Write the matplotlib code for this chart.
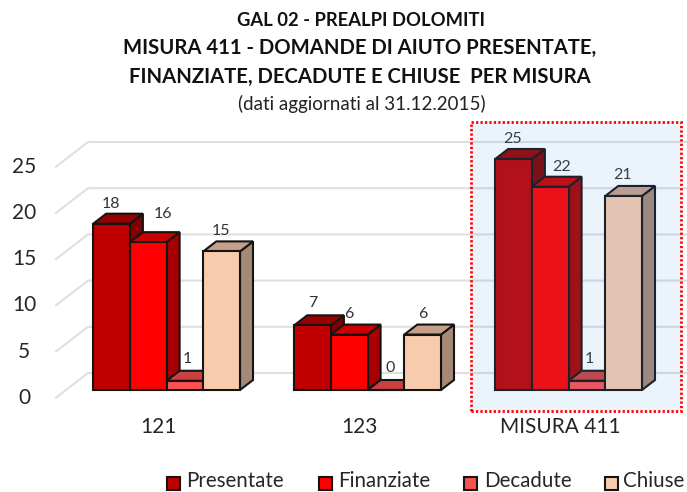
import numpy as np
import matplotlib
matplotlib.use('Agg')
import matplotlib.pyplot as plt
from matplotlib.patches import Polygon, Rectangle

plt.rcParams['font.family'] = ['Lato', 'DejaVu Sans']

categories = ['121', '123', 'MISURA 411']
series_names = ['Presentate', 'Finanziate', 'Decadute', 'Chiuse']
presentate = [18, 7, 25]
finanziate = [16, 6, 22]
decadute = [1, 0, 1]
chiuse = [15, 6, 21]
y_ticks = [0, 5, 10, 15, 20, 25]

series = [presentate, finanziate, decadute, chiuse]
front_cols = ['#c00000', '#ff0000', '#ff5050', '#f8cbad']
top_cols = ['#990000', '#cc0000', '#cc4040', '#c69f88']
side_cols = ['#800000', '#a80000', '#a83535', '#a68876']
edge = '#141414'

# pixel nudges of the value labels, from the back top corner centre of each bar
label_nudge = [[(-1, 10), (0, 12), (-1, 10)],
               [(15, 18), (0, 11), (11, 10)],
               [(2, 12), (4, 12), (2, 12)],
               [(-1, 10), (0, 11), (-1, 11)]]

W, H = 687, 492
fig = plt.figure(figsize=(W / 100, H / 100), dpi=100)

# axes spans 0..25 in y, one unit of x = one category
px_y = 9.24
px_x = 201.0
ax_left, ax_right = 56, 687
ax_bottom = 390
ax_top = ax_bottom - 25 * px_y
ax = fig.add_axes([ax_left / W, 1 - ax_bottom / H, (ax_right - ax_left) / W, (ax_bottom - ax_top) / H])
x0 = (93.3 + 73.3 - ax_left) / px_x
ax.set_xlim(-x0, (ax_right - ax_left) / px_x - x0)
ax.set_ylim(0, 25)
ax.axis('off')

bar_w = 36.7 / px_x
dep_x = 13 / px_x
dep_y = 10 / px_y
wall_dy = 17 / px_y
front_dy = -7.7 / px_y

for t in y_ticks:
    ax.plot([-x0, -x0 + 32 / px_x, ax.get_xlim()[1]],
            [t + front_dy, t + wall_dy, t + wall_dy],
            color='#dfdfdf', lw=1.5, clip_on=False, zorder=1, solid_joinstyle='miter')
    ax.annotate(str(t), (-x0, t + front_dy), xytext=(-32, 0), textcoords='offset pixels',
                ha='center', va='center', fontsize=15, color='#262626', annotation_clip=False)

for i, vals in enumerate(series):
    for j, v in enumerate(vals):
        x = j + (i - 2) * bar_w
        # side and top faces
        ax.add_patch(Polygon([(x + bar_w, 0), (x + bar_w + dep_x, dep_y), (x + bar_w + dep_x, v + dep_y), (x + bar_w, v)],
                             facecolor=side_cols[i], edgecolor=edge, lw=1.5, zorder=3 + i, clip_on=False))
        ax.add_patch(Polygon([(x, v), (x + dep_x, v + dep_y), (x + bar_w + dep_x, v + dep_y), (x + bar_w, v)],
                             facecolor=top_cols[i], edgecolor=edge, lw=1.5, zorder=3 + i, clip_on=False))
        ax.bar(x, v, width=bar_w, align='edge', color=front_cols[i], edgecolor=edge, lw=1.5,
               zorder=3 + i, clip_on=False)
        nx, ny = label_nudge[i][j]
        ax.annotate(str(v), (x + bar_w / 2, v + dep_y), xytext=(nx, ny), textcoords='offset pixels',
                    ha='center', va='center', fontsize=11.5, color='#333333', zorder=10,
                    annotation_clip=False)

for j, c in enumerate(categories):
    ax.annotate(c, (j, 0), xytext=(-8, -37), textcoords='offset pixels', ha='center', va='center',
                fontsize=15, color='#262626', annotation_clip=False)

# highlight box over the last group
fig.add_artist(Rectangle((470.5 / W, 1 - 411 / H), 210 / W, 289 / H, transform=fig.transFigure,
                         facecolor=(80 / 255, 150 / 255, 225 / 255, 0.115), edgecolor='none', zorder=20))
fig.add_artist(Rectangle((470.5 / W, 1 - 411 / H), 210 / W, 289 / H, transform=fig.transFigure,
                         facecolor='none', edgecolor='#ff0000', lw=2, ls=(0, (0.8, 0.8)), zorder=21))

# titles
fig.text(361 / W, 1 - 20 / H, 'GAL 02 - PREALPI DOLOMITI', ha='center', va='center', fontsize=13.2,
         fontweight='bold', color='#111111')
fig.text(360 / W, 1 - 48 / H, 'MISURA 411 - DOMANDE DI AIUTO PRESENTATE,', ha='center', va='center',
         fontsize=14.6, fontweight='bold', color='#111111')
fig.text(360 / W, 1 - 77 / H, 'FINANZIATE, DECADUTE E CHIUSE  PER MISURA', ha='center', va='center',
         fontsize=14.6, fontweight='bold', color='#111111')
fig.text(362 / W, 1 - 104 / H, '(dati aggiornati al 31.12.2015)', ha='center', va='center', fontsize=13.5,
         color='#222222')

# legend
leg_x = [166.5, 318.5, 463.5, 604.5]
leg_text_x = [186, 338, 484, 623]
for name, col, lx, tx in zip(series_names, front_cols, leg_x, leg_text_x):
    fig.add_artist(Rectangle((lx / W, 1 - 490 / H), 13 / W, 13 / H, transform=fig.transFigure,
                             facecolor=col, edgecolor=edge, lw=1.5))
    fig.text(tx / W, 1 - 481 / H, name, ha='left', va='center', fontsize=14.8, color='#262626')

fig.savefig('out.png', dpi=100)
